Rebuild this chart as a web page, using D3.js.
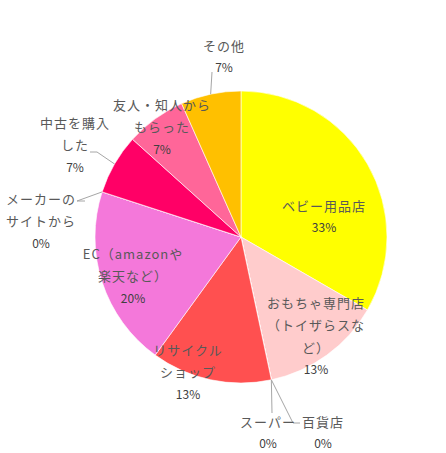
<!DOCTYPE html>
<html><head><meta charset="utf-8">
<script src="https://cdn.jsdelivr.net/npm/d3@7"></script>
<style>
html,body{margin:0;padding:0;background:#fff;}
svg{display:block;}
text{font-family:"Noto Sans CJK JP","Noto Sans",sans-serif;font-size:13px;}
</style></head>
<body>
<svg id="chart" width="446" height="453"></svg>
<script>
// ---- data ----
const categories = ["ベビー用品店","おもちゃ専門店（トイザらスなど）","スーパー","百貨店","リサイクルショップ","EC（amazonや楽天など）","メーカーのサイトから","中古を購入した","友人・知人からもらった","その他"];
const counts = [5, 2, 0, 0, 2, 3, 0, 1, 1, 1];
const percentLabels = ["33%","13%","0%","0%","13%","20%","0%","7%","7%","7%"];
const labelLines = [
  ["ベビー用品店"],
  ["おもちゃ専門店","（トイザらスな","ど）"],
  ["スーパー"],
  ["百貨店"],
  ["リサイクル","ショップ"],
  ["EC（amazonや","楽天など）"],
  ["メーカーの","サイトから"],
  ["中古を購入","した"],
  ["友人・知人から","もらった"],
  ["その他"]
];
const colors = ["#FFFF00","#FFCCCC","#A5A5A5","#FFC000","#FF5050","#F478DA","#4472C4","#FF0066","#FF6699","#FFC000"];

// ---- layout ----
const W = 446, H = 453;
const cx = 241, cy = 237, R = 146;
// label block positions (centre x, first line centre y), relative to chart centre
const labelLayout = [
  [83, -32], [75, 65], [27, 184], [82, 184], [-53, 112],
  [-108, 16], [-200, -39], [-166, -115], [-79, -133], [-17, -192]
];
const lineGap = 22.5;
// leader lines: for slices with leaders, label-side point(s) relative to centre
const leaders = {
  2: [[31, 176]],
  3: [[59, 186],[52, 186]],
  6: [[-156, -36],[-164, -36]],
  7: [[-151, -85],[-144, -85]],
  9: [[-29, -165]]
};

const svg = d3.select("#chart");
const g = svg.append("g").attr("transform", `translate(${cx},${cy})`);

const pie = d3.pie().sort(null).value(d => d)(counts);
const arc = d3.arc().innerRadius(0).outerRadius(R);

g.selectAll("path.slice").data(pie).join("path")
  .attr("class","slice")
  .attr("d", arc)
  .attr("fill", (d,i) => colors[i])
  .attr("stroke", "#fff")
  .attr("stroke-width", 0.6);

// leader lines
Object.keys(leaders).forEach(k => {
  const i = +k, d = pie[i];
  const a = (d.startAngle + d.endAngle) / 2;
  const edge = [Math.sin(a) * R, -Math.cos(a) * R];
  const pts = leaders[k].concat([edge]);
  g.append("path")
    .attr("d", d3.line()(pts))
    .attr("fill","none")
    .attr("stroke","#A6A6A6")
    .attr("stroke-width",1);
});

// labels
labelLines.forEach((lines, i) => {
  const [lx, ly] = labelLayout[i];
  const t = g.append("g");
  lines.forEach((s, j) => {
    t.append("text")
      .attr("x", lx).attr("y", ly + j * lineGap)
      .attr("text-anchor","middle")
      .attr("dominant-baseline","central")
      .attr("fill","#595959")
      .attr("letter-spacing", "1px")
      .text(s);
  });
  t.append("text")
    .attr("x", lx).attr("y", ly + lines.length * lineGap - 1)
    .attr("text-anchor","middle")
    .attr("dominant-baseline","central")
    .attr("fill","#404040")
    .style("font-size","12px")
    .text(percentLabels[i]);
});
</script>
</body></html>
